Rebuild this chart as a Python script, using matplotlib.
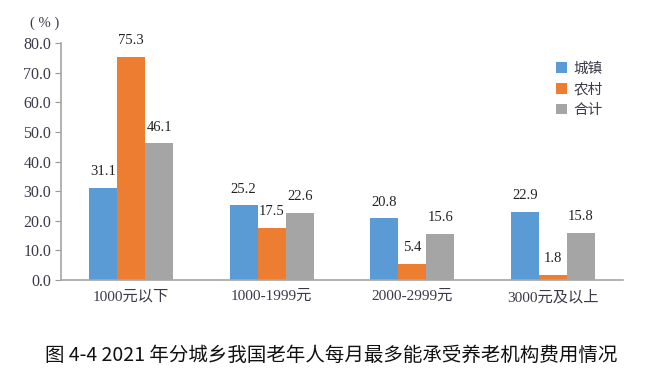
import numpy as np
import matplotlib
matplotlib.use("Agg")
import matplotlib.pyplot as plt

plt.rcParams["font.family"] = ["Liberation Serif", "Noto Sans CJK SC", "DejaVu Sans"]

categories = ["1000元以下", "1000-1999元", "2000-2999元", "3000元及以上"]
series_names = ["城镇", "农村", "合计"]
urban = [31.1, 25.2, 20.8, 22.9]
rural = [75.3, 17.5, 5.4, 1.8]
total = [46.1, 22.6, 15.6, 15.8]
colors = ["#5B9BD5", "#ED7D31", "#A5A5A5"]
yticks = [0, 10, 20, 30, 40, 50, 60, 70, 80]

fig = plt.figure(figsize=(6.45, 3.75), dpi=100)
ax = fig.add_axes([0.0946, 0.2533, 0.8714, 0.632])

x = np.arange(len(categories))
w = 0.2
text_color = "#3a3a4a"
for i, (vals, name, c) in enumerate(zip([urban, rural, total], series_names, colors)):
    bars = ax.bar(x + (i - 1) * w, vals, width=w, color=c, label=name)
    for b, v in zip(bars, vals):
        ax.annotate(f"{v:.1f}", (b.get_x() + b.get_width() / 2, v),
                    xytext=(0, 7), textcoords="offset points",
                    ha="center", va="bottom", fontsize=10.5, color="#222222")

ax.set_xlim(-0.5, 3.5)
ax.set_ylim(0, 80)
ax.set_yticks(yticks)
ax.set_yticklabels([f"{t:.1f}" for t in yticks], fontsize=11.5, color=text_color)
ax.set_xticks(x)
ax.set_xticklabels(categories, fontsize=11, color=text_color)
ax.tick_params(axis="x", length=0, pad=7)
ax.tick_params(axis="y", length=4, color="#999999", pad=3)
for s in ("top", "right"):
    ax.spines[s].set_visible(False)
for s in ("left", "bottom"):
    ax.spines[s].set_color("#a6a6a6")
    ax.spines[s].set_linewidth(1.2)

ax.text(-0.055, 1.084, "( % )", transform=ax.transAxes, fontsize=10.5,
        color=text_color, ha="left", va="center")

ax.legend(loc="upper left", bbox_to_anchor=(0.88, 0.92), frameon=False,
          fontsize=10.5, handlelength=0.75, handleheight=0.75, handletextpad=0.5,
          labelspacing=0.5, borderpad=0, borderaxespad=0, labelcolor=text_color)

fig.text(0.513, 0.053, "图 4-4 2021 年分城乡我国老年人每月最多能承受养老机构费用情况",
         ha="center", va="center", fontsize=14, family=["Noto Sans CJK SC", "DejaVu Sans"],
         color="#111111")

fig.savefig("out.png", dpi=100)
